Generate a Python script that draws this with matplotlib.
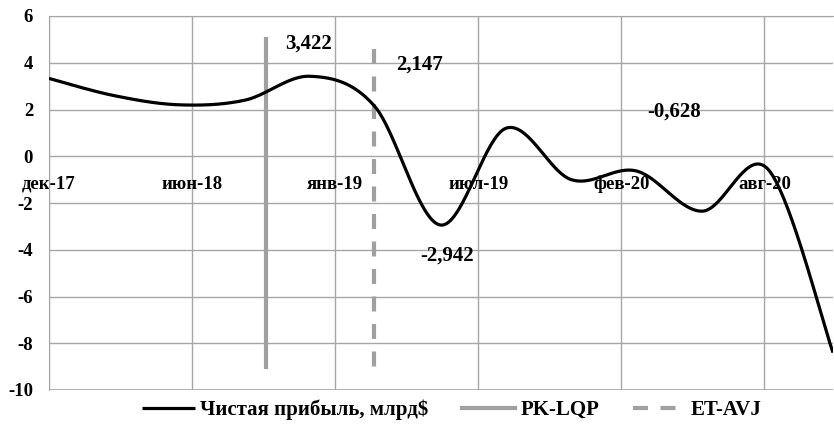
import numpy as np
import pandas as pd
import matplotlib
matplotlib.use('Agg')
import matplotlib.pyplot as plt
import matplotlib.dates as mdates

# quarterly net profit, bln $
dates = pd.date_range('2017-12-01', '2020-12-01', freq='3MS')
profit = [3.33, 2.6, 2.2, 2.4, 3.422, 2.147, -2.942, 1.2, -1.0, -0.628, -2.35, -0.55, -8.4]

# vertical markers (drawn top -> bottom)
pk_date = '2018-10-01'
pk_range = [5, -9]
et_date = '2019-03-01'
et_range = [4.6, -9]

# labelled points: (index in profit, text)
labels = [(4, '3,422'), (5, '2,147'), (6, '-2,942'), (9, '-0,628')]
label_offsets = [(-2, 33), (45, 41), (7, -31), (38, 59)]

tick_labels = ['дек-17', 'июн-18', 'янв-19', 'июл-19', 'фев-20', 'авг-20']
y_ticks = [6, 4, 2, 0, -2, -4, -6, -8, -10]


def smooth(x, y, n=40):
    # excel-like smoothed line (catmull-rom through the points)
    p = np.column_stack([x, y]).astype(float)
    p = np.vstack([p[0], p, p[-1]])
    out = []
    t = np.linspace(0, 1, n)[:, None]
    for i in range(1, len(p) - 2):
        b0 = p[i]
        b1 = p[i] + (p[i + 1] - p[i - 1]) / 6
        b2 = p[i + 1] - (p[i + 2] - p[i]) / 6
        b3 = p[i + 1]
        seg = ((1 - t) ** 3) * b0 + 3 * ((1 - t) ** 2) * t * b1 \
            + 3 * (1 - t) * t ** 2 * b2 + t ** 3 * b3
        out.append(seg)
    out = np.vstack(out)
    return out[:, 0], out[:, 1]


plt.rcParams['font.family'] = ['Liberation Serif', 'DejaVu Serif']
plt.rcParams['font.weight'] = 'bold'
plt.rcParams['axes.unicode_minus'] = False

fig = plt.figure(figsize=(8.34, 4.29), dpi=100)
ax = fig.add_axes([49 / 834, 1 - 390 / 429, (833 - 49) / 834, (390 - 16) / 429])

x = mdates.date2num(dates)
sx, sy = smooth(x, profit)
ax.plot(sx, sy, color='black', lw=2.3, label='Чистая прибыль, млрд$', zorder=3,
        solid_capstyle='butt')

pk_x = mdates.date2num(pd.Timestamp(pk_date))
et_x = mdates.date2num(pd.Timestamp(et_date))
ax.plot([pk_x, pk_x], pk_range, color='#a0a0a0', lw=3, label='PK-LQP', zorder=2)
ax.plot([et_x, et_x], et_range, color='#a0a0a0', lw=3, dashes=(3.6, 3.0),
        label='ET-AVJ', zorder=2)

for (i, txt), off in zip(labels, label_offsets):
    ax.annotate(txt, (x[i], profit[i]), xytext=off, textcoords='offset pixels',
                ha='center', va='center', fontsize=15, fontweight='bold')

start = mdates.date2num(pd.Timestamp('2017-12-01'))
ax.set_xlim(start, start + 1096)
ax.set_ylim(-10, 6)
ax.set_xticks([start + 200 * k for k in range(len(tick_labels))])
ax.set_xticklabels(tick_labels)
ax.set_yticks(y_ticks)
ax.grid(True, color='#a6a6a6', lw=1)
ax.set_axisbelow(True)
for s in ax.spines.values():
    s.set_color('#a6a6a6')
ax.spines['right'].set_visible(False)
ax.spines['bottom'].set_position(('data', 0))
ax.spines['bottom'].set_visible(False)
ax.tick_params(axis='both', length=0, labelsize=13.5)
ax.tick_params(axis='x', pad=14)
ax.tick_params(axis='y', pad=11.5)
ax.axhline(-10, color='#a6a6a6', lw=1.2, zorder=1)

fig.legend(loc='center', bbox_to_anchor=(452 / 834, 1 - 410 / 429), ncol=3, frameon=False,
           fontsize=15, handlelength=2.55, handletextpad=0.25, columnspacing=1.6)

fig.savefig('out.png', dpi=100)
